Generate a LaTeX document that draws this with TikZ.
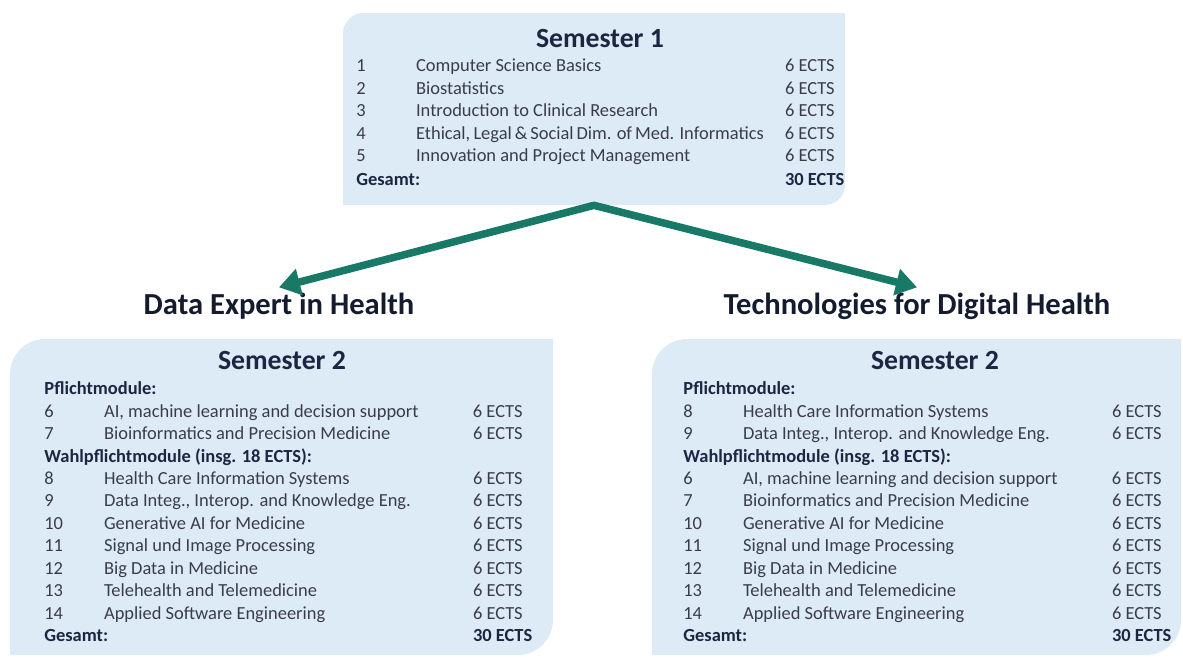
\documentclass[tikz,border=0pt]{standalone}
\usepackage{fontspec}
\setmainfont{Carlito}
\usetikzlibrary{arrows.meta}

\definecolor{boxblue}{RGB}{221,235,247}
\definecolor{headnavy}{RGB}{28,38,66}
\definecolor{rowtext}{RGB}{58,60,76}
\definecolor{branchgreen}{RGB}{24,122,102}

\newcommand{\hd}[1]{\textcolor{headnavy}{\bfseries #1}}

\begin{document}
\begin{tikzpicture}[
    x=0.02cm, y=0.02cm,
    modbox/.style={rectangle, fill=boxblue, inner sep=0pt},
    semtitle/.style={anchor=base, inner sep=0pt, font=\fontsize{15.8}{19}\selectfont\bfseries, text=headnavy},
    track/.style={anchor=base, font=\fontsize{17.4}{21}\selectfont\bfseries, text=headnavy!70!black},
    modlist/.style={anchor=base west, inner sep=0pt, font=\fontsize{10.5}{12.75}\selectfont, text=rowtext},
    branch/.style={{Triangle[length=0.42cm, width=0.52cm]}-{Triangle[length=0.42cm, width=0.52cm]}, line width=0.15cm, line join=round, draw=branchgreen}
]
    \useasboundingbox (0,0) rectangle (1183,658);

    % boxes: top left and bottom right corners rounded
    \node[modbox, minimum width=10.04cm, minimum height=3.84cm, rounded corners=0.4cm] (sem1) at (594,549) {};
    \fill[boxblue] (sem1.north east) rectangle ++(-30,-30);
    \fill[boxblue] (sem1.south west) rectangle ++(30,30);

    \node[modbox, minimum width=10.86cm, minimum height=6.32cm, rounded corners=0.7cm] (data2) at (281.5,161) {};
    \fill[boxblue] (data2.north east) rectangle ++(-40,-40);
    \fill[boxblue] (data2.south west) rectangle ++(40,40);

    \node[modbox, minimum width=10.58cm, minimum height=6.32cm, rounded corners=0.7cm] (tech2) at (916.5,161) {};
    \fill[boxblue] (tech2.north east) rectangle ++(-40,-40);
    \fill[boxblue] (tech2.south west) rectangle ++(40,40);

    % semester 1
    \node[semtitle] (sem1title) at (600,610.5) {Semester 1};
    \node[modlist] (sem1list) at (356,586) {%
        \begin{tabular}[t]{@{}p{22pt}p{198pt}l@{}}
        1 & Computer Science Basics & 6 ECTS\\
        2 & Biostatistics & 6 ECTS\\
        3 & Introduction to Clinical Research & 6 ECTS\\
        4 & Ethical, Legal \& Social Dim. of Med. Informatics & 6 ECTS\\
        5 & Innovation and Project Management & 6 ECTS\\[1pt]
        \multicolumn{2}{@{}l}{\hd{Gesamt:}} & \hd{30 ECTS}\\
        \end{tabular}};

    % the two tracks
    \node[track] (data) at (279,343) {Data Expert in Health};
    \node[track] (tech) at (917,343) {Technologies for Digital Health};
    \draw[branch] (data.north) -- (sem1.south) -- (tech.north);

    % semester 2, data track
    \node[semtitle] (data2title) at (282,288.5) {Semester 2};
    \node[modlist] (data2list) at (44,263) {%
        \begin{tabular}[t]{@{}p{22pt}p{198pt}l@{}}
        \multicolumn{3}{@{}l}{\hd{Pflichtmodule:}}\\
        6 & AI, machine learning and decision support & 6 ECTS\\
        7 & Bioinformatics and Precision Medicine & 6 ECTS\\
        \multicolumn{3}{@{}l}{\hd{Wahlpflichtmodule (insg. 18 ECTS):}}\\
        8 & Health Care Information Systems & 6 ECTS\\
        9 & Data Integ., Interop. and Knowledge Eng. & 6 ECTS\\
        10 & Generative AI for Medicine & 6 ECTS\\
        11 & Signal und Image Processing & 6 ECTS\\
        12 & Big Data in Medicine & 6 ECTS\\
        13 & Telehealth and Telemedicine & 6 ECTS\\
        14 & Applied Software Engineering & 6 ECTS\\
        \multicolumn{2}{@{}l}{\hd{Gesamt:}} & \hd{30 ECTS}\\
        \end{tabular}};

    % semester 2, technology track
    \node[semtitle] (tech2title) at (935,288.5) {Semester 2};
    \node[modlist] (tech2list) at (683,263) {%
        \begin{tabular}[t]{@{}p{22pt}p{198pt}l@{}}
        \multicolumn{3}{@{}l}{\hd{Pflichtmodule:}}\\
        8 & Health Care Information Systems & 6 ECTS\\
        9 & Data Integ., Interop. and Knowledge Eng. & 6 ECTS\\
        \multicolumn{3}{@{}l}{\hd{Wahlpflichtmodule (insg. 18 ECTS):}}\\
        6 & AI, machine learning and decision support & 6 ECTS\\
        7 & Bioinformatics and Precision Medicine & 6 ECTS\\
        10 & Generative AI for Medicine & 6 ECTS\\
        11 & Signal und Image Processing & 6 ECTS\\
        12 & Big Data in Medicine & 6 ECTS\\
        13 & Telehealth and Telemedicine & 6 ECTS\\
        14 & Applied Software Engineering & 6 ECTS\\
        \multicolumn{2}{@{}l}{\hd{Gesamt:}} & \hd{30 ECTS}\\
        \end{tabular}};
\end{tikzpicture}
\end{document}
